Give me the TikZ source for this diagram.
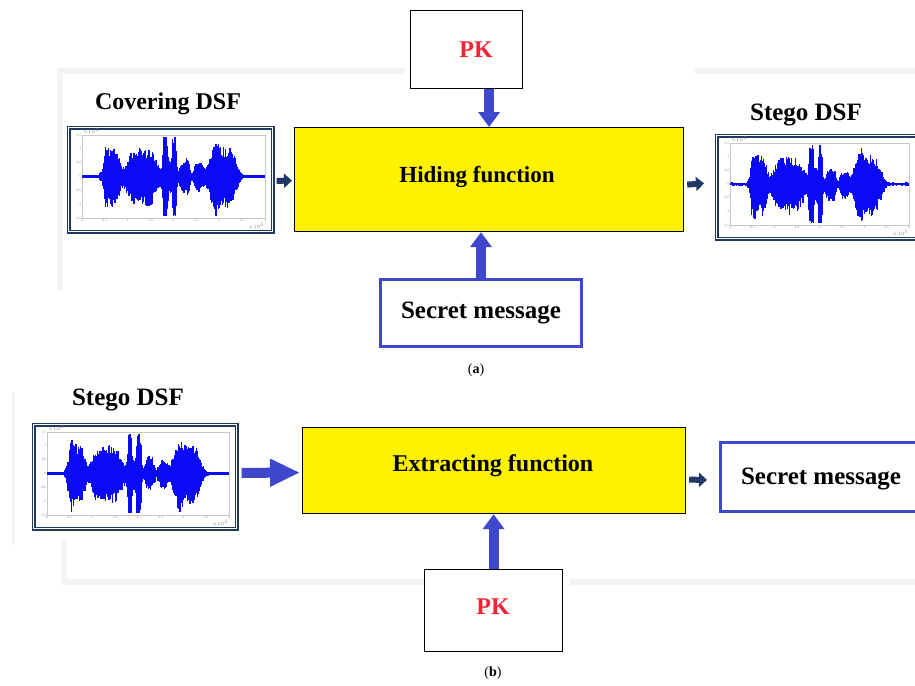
\documentclass[tikz,border=0pt]{standalone}
\usepackage{fontspec}
\setmainfont{Liberation Serif}
\usetikzlibrary{arrows.meta,calc}
\definecolor{navy}{HTML}{203864}
\definecolor{bluea}{HTML}{3F48CC}
\definecolor{wblue}{HTML}{0A0AF5}
\definecolor{yell}{HTML}{FFF200}
\definecolor{pkred}{HTML}{F42434}
\definecolor{framegray}{HTML}{F3F3F3}
\pgfmathdeclarefunction{burst}{4}{%
  \pgfmathparse{#4*exp(-(min(((#1-#2)/#3)^2,4))^2)}}
\newcommand{\wavein}[5]{% x0 y0 (box top-left), w, h, seed
  \pgfmathsetseed{#5}
  \pgfmathsetmacro\axl{#1+14}
  \pgfmathsetmacro\axr{#1+#3-7}
  \pgfmathsetmacro\axt{#2+8}
  \pgfmathsetmacro\axb{#2+#4-13}
  \pgfmathsetmacro\axc{(\axt+\axb)/2}
  \pgfmathsetmacro\amp{(\axb-\axt)/2*0.95}
  \draw[gray!45,line width=0.4pt] (\axl,\axt) rectangle (\axr,\axb);
  \foreach \k in {0,...,170}{%
    \pgfmathsetmacro\xx{\k/170}
    \pgfmathsetmacro\env{0.04+burst(\xx,0.158,0.05,0.72)+burst(\xx,0.125,0.012,0.25)+burst(\xx,0.325,0.095,0.68)+burst(\xx,0.455,0.014,0.95)+burst(\xx,0.505,0.014,0.9)+burst(\xx,0.48,0.045,0.38)+burst(\xx,0.565,0.03,0.42)+burst(\xx,0.64,0.03,0.32)+burst(\xx,0.77,0.085,0.72)+burst(\xx,0.73,0.018,0.25)}
    \pgfmathsetmacro\up{min(\env*(0.65+0.35*rnd),1)}
    \pgfmathsetmacro\lo{min(\env*(0.7+0.4*rnd),1)}
    \pgfmathsetmacro\px{\axl+1+\xx*(\axr-\axl-2)}
    \draw[wblue,line width=1.3pt] (\px,{\axc-\up*\amp}) -- (\px,{\axc+\lo*\amp});
  }
  \foreach \t [count=\i from 0] in {0,0.5,1,1.5,2,2.5,3,3.5,4}{%
    \node[ticklab,anchor=north] at ({\axl+\i*(\axr-\axl)/8},\axb) {\t};}
  \foreach \t [count=\i from 0] in {1.5,1,0.5,0,-0.5,-1,-1.5}{%
    \node[ticklab,anchor=east] at (\axl,{\axt+\i*(\axb-\axt)/6}) {\t};}
  \node[ticklab,anchor=south west] at (\axl,\axt) {$\times10^{4}$};
  \node[ticklab,anchor=north east] at (\axr,{\axb+4}) {$\times10^{5}$};
}
\tikzset{
  boxnw/.style={inner sep=0pt,anchor=north west},
  pkbox/.style={boxnw,draw=black,line width=1.2pt,fill=white},
  funcbox/.style={boxnw,draw=black,line width=1.2pt,fill=yell},
  wavebox/.style={boxnw,draw=navy,line width=1.7pt,double=white,double distance=0.8pt},
  msgbox/.style={boxnw,draw=bluea,line width=3pt,fill=white},
  lab/.style={font=\bfseries\fontsize{24}{28}\selectfont,inner sep=0pt},
  pklab/.style={font=\bfseries\fontsize{24}{28}\selectfont,text=pkred,inner sep=0pt},
  ticklab/.style={font=\fontsize{3.5}{3.5}\selectfont,text=gray,inner sep=0.6pt},
  captext/.style={font=\fontsize{14}{16}\selectfont,inner sep=0pt},
  bigarrow/.style={draw=bluea,line width=10pt,-{Triangle[width=21pt,length=15pt]}},
  widearrow/.style={draw=bluea,line width=10pt,-{Triangle[width=26pt,length=30pt]}},
  smallarrow/.style={draw=navy,line width=6pt,-{Triangle[width=14pt,length=8pt]}},
  frameline/.style={draw=framegray,line width=6pt}
}
\begin{document}
\begin{tikzpicture}[x=1pt,y=-1pt]
\useasboundingbox (0,0) rectangle (915,685);
% faint background frames
\draw[frameline] (60,290) -- (60,71) -- (405,71);
\draw[frameline] (695,71) -- (915,71);
\draw[frameline] (64,540) -- (64,582) -- (425,582);
\draw[frameline] (570,582) -- (915,582);
\draw[draw=framegray,line width=3pt] (13,392) -- (13,545);
% ---------- (a) ----------
\node[pkbox,minimum width=112pt,minimum height=78pt] (pk1) at (410,10) {};
\node[pklab] (pk1t) at (476,50) {PK};
\node[funcbox,minimum width=389pt,minimum height=104pt] (hide) at (294,127) {};
\node[lab,font=\bfseries\fontsize{23}{26}\selectfont] (hidet) at (477,177) {Hiding function};
\node[lab] (covlab) at (168,104) {Covering DSF};
\node[wavebox,minimum width=204pt,minimum height=104pt] (w1) at (68,127) {};
\wavein{68}{127}{204}{104}{11}
\node[lab,font=\bfseries\fontsize{25}{28}\selectfont] (steglab1) at (806,115) {Stego DSF};
\node[wavebox,minimum width=200pt,minimum height=103pt] (w2) at (716,135) {};
\wavein{716}{135}{200}{103}{23}
\node[msgbox,minimum width=201pt,minimum height=67pt] (sec1) at (379,278) {};
\node[lab,font=\bfseries\fontsize{25}{28}\selectfont] (sec1t) at (481,313) {Secret message};
\node[captext] (capa) at (476,370) {(\textbf{a})};
\draw[bigarrow] (hide.north |- pk1.south) -- (hide.north);
\draw[bigarrow] (sec1.north) -- (sec1.north |- hide.south);
\draw[smallarrow] ($(w1.east)+(3,1)$) -- ($(hide.west)+(-2,1)$);
\draw[smallarrow] ($(hide.east)+(3,5)$) -- ($(w2.west)+(-12,-4)$);
% ---------- (b) ----------
\node[lab,font=\bfseries\fontsize{25}{28}\selectfont] (steglab2) at (128,400) {Stego DSF};
\node[wavebox,minimum width=203pt,minimum height=104pt] (w3) at (33,424) {};
\wavein{33}{424}{203}{104}{37}
\node[funcbox,minimum width=383pt,minimum height=86pt] (ext) at (302,427) {};
\node[lab,font=\bfseries\fontsize{24}{28}\selectfont] (extt) at (493,466) {Extracting function};
\node[msgbox,minimum width=200pt,minimum height=69pt] (sec2) at (719,441) {};
\node[lab,font=\bfseries\fontsize{25}{28}\selectfont] (sec2t) at (821,479) {Secret message};
\node[pkbox,minimum width=138pt,minimum height=82pt] (pk2) at (424,569) {};
\node[pklab] (pk2t) at (493,607) {PK};
\node[captext] (capb) at (493,673) {(\textbf{b})};
\draw[widearrow] ($(w3.east)+(4,-4)$) -- ($(ext.west)+(-2,2)$);
\draw[bigarrow] (pk2.north) -- (pk2.north |- ext.south);
\draw[smallarrow] ($(ext.east)+(3,9)$) -- ($(sec2.west)+(-12,3)$);
\end{tikzpicture}
\end{document}
